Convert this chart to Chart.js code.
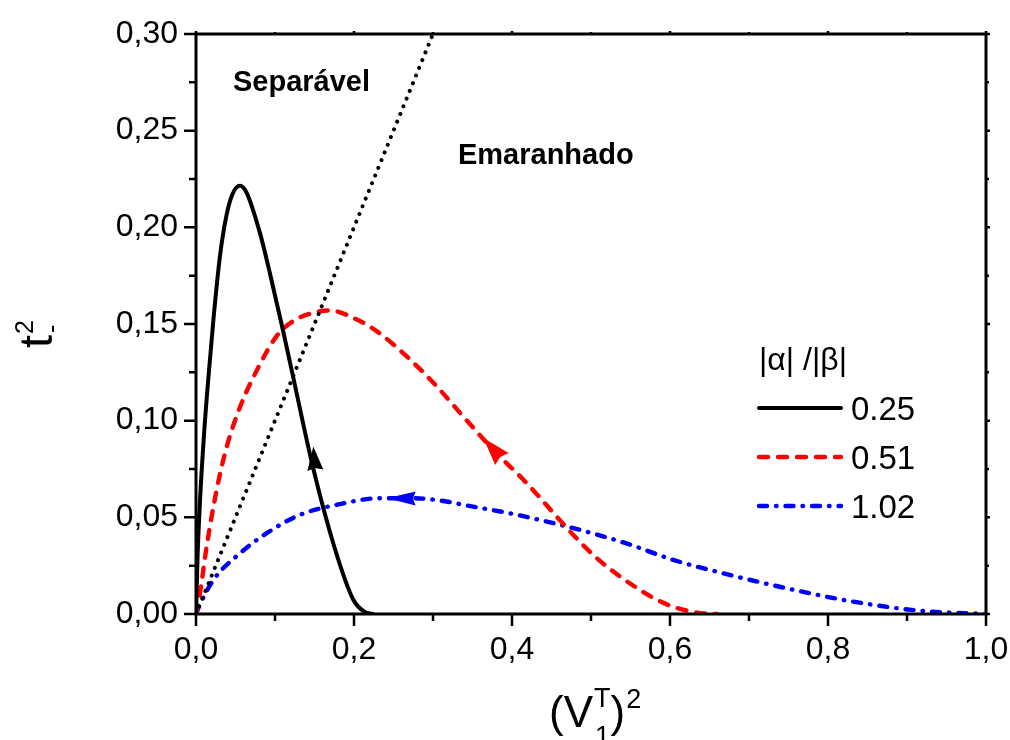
<!DOCTYPE html>
<html><head><meta charset="utf-8">
<script src="https://cdn.jsdelivr.net/npm/chart.js@4.4.1/dist/chart.umd.min.js"></script>
<style>html,body{margin:0;padding:0;background:#fff}canvas{display:block}</style>
</head><body>
<canvas id="c" width="1010" height="740"></canvas>
<script>
// ---- data ----
const xTicks = [0, 0.2, 0.4, 0.6, 0.8, 1.0];
const yTicks = [0, 0.05, 0.10, 0.15, 0.20, 0.25, 0.30];
const xMinor = [0.1, 0.3, 0.5, 0.7, 0.9];
const yMinor = [0.025, 0.075, 0.125, 0.175, 0.225, 0.275];
const legendTitle = '|\u03B1| /|\u03B2|';
const legendLabels = ['0.25', '0.51', '1.02'];

const blackX = [0, 0.002, 0.005, 0.010, 0.015, 0.022, 0.030, 0.038, 0.046, 0.0557, 0.064, 0.081, 0.0937, 0.1105, 0.123, 0.148, 0.176, 0.199, 0.213, 0.224];
const blackY = [0, 0.030, 0.058, 0.092, 0.119, 0.152, 0.184, 0.205, 0.217, 0.2215, 0.218, 0.197, 0.176, 0.146, 0.1225, 0.076, 0.0335, 0.0075, 0.0012, 0];

const redX = [0, 0.004, 0.0135, 0.026, 0.039, 0.0557, 0.0726, 0.102, 0.123, 0.1485, 0.1696, 0.2034, 0.2287, 0.271, 0.3046, 0.338, 0.376, 0.4186, 0.4565, 0.482, 0.507, 0.549, 0.593, 0.634, 0.659];
const redY = [0, 0.008, 0.035, 0.064, 0.0867, 0.107, 0.1225, 0.1437, 0.1515, 0.1558, 0.157, 0.1523, 0.1463, 0.1316, 0.1178, 0.1023, 0.085, 0.0677, 0.0504, 0.039, 0.029, 0.0159, 0.0055, 0.0007, 0];

const blueX = [0, 0.004, 0.022, 0.0557, 0.0895, 0.1316, 0.178, 0.233, 0.275, 0.317, 0.338, 0.4016, 0.4776, 0.545, 0.604, 0.663, 0.7477, 0.832, 0.916, 1.0];
const blueY = [0, 0.004, 0.0176, 0.0314, 0.0418, 0.0513, 0.0565, 0.0599, 0.0599, 0.0582, 0.0565, 0.0517, 0.0444, 0.0365, 0.028, 0.0215, 0.0133, 0.0064, 0.0017, 0];

const boundaryX = [0, 0.30];
const boundaryY = [0, 0.30];

// arrows (tip and tail, in data units)
const arrowTipX  = [0.1485, 0.3637, 0.2414];
const arrowTipY  = [0.0867, 0.0910, 0.0599];
const arrowTailX = [0.1510, 0.3835, 0.2759];
const arrowTailY = [0.0746, 0.0819, 0.0598];
const arrowColors = ['#000000', '#ff0000', '#0000ff'];

const regionLabels = ['Separ\u00E1vel', 'Emaranhado'];
const regionX = [0.0468, 0.3316];
const regionY = [0.2705, 0.2326];

// ---- helpers ----
const FONT = '"Liberation Sans", Arial, sans-serif';
const pts = (xs, ys) => xs.map((x, i) => ({x: x, y: ys[i]}));

const styles = [
  {color: '#000000', dash: [], width: 4},
  {color: '#ff0000', dash: [9, 10], width: 4.4},
  {color: '#0000ff', dash: [8, 9, 0.5, 9], width: 4.4}
];

const deco = {
  id: 'deco',
  afterDatasetsDraw(chart) {
    const ctx = chart.ctx, xs = chart.scales.x, ys = chart.scales.y;
    const ca = chart.chartArea;
    ctx.save();
    ctx.beginPath(); ctx.rect(ca.left, ca.top, ca.right - ca.left, ca.bottom - ca.top); ctx.clip();
    const lens = [24, 28, 29], halfw = [8, 9, 7];
    for (let i = 0; i < arrowTipX.length; i++) {
      const tx = xs.getPixelForValue(arrowTipX[i]), ty = ys.getPixelForValue(arrowTipY[i]);
      const bx = xs.getPixelForValue(arrowTailX[i]), by = ys.getPixelForValue(arrowTailY[i]);
      let ux = tx - bx, uy = ty - by; const d = Math.hypot(ux, uy); ux /= d; uy /= d;
      const L = lens[i], W = halfw[i];
      const cx = tx - ux * L, cy = ty - uy * L;
      const nx = -uy, ny = ux;
      ctx.fillStyle = arrowColors[i];
      ctx.beginPath();
      ctx.moveTo(tx, ty);
      ctx.lineTo(cx + nx * W, cy + ny * W);
      ctx.lineTo(tx - ux * L * 0.9, ty - uy * L * 0.9);
      ctx.lineTo(cx - nx * W, cy - ny * W);
      ctx.closePath(); ctx.fill();
    }
    ctx.restore();
    ctx.save();
    ctx.fillStyle = '#000'; ctx.font = 'bold 29px ' + FONT; ctx.textAlign = 'left'; ctx.textBaseline = 'alphabetic';
    regionLabels.forEach((t, i) => ctx.fillText(t, xs.getPixelForValue(regionX[i]), ys.getPixelForValue(regionY[i])));
    ctx.restore();
  },
  afterDraw(chart) {
    const ctx = chart.ctx, xs = chart.scales.x, ys = chart.scales.y;
    const ca = chart.chartArea;
    ctx.save();
    ctx.strokeStyle = '#000'; ctx.lineWidth = 3; ctx.lineCap = 'butt';
    ctx.strokeRect(ca.left, ca.top, ca.right - ca.left, ca.bottom - ca.top);
    ctx.lineWidth = 2.5;
    ctx.beginPath();
    xTicks.forEach(v => { const p = xs.getPixelForValue(v); ctx.moveTo(p, ca.bottom); ctx.lineTo(p, ca.bottom + 12); ctx.moveTo(p, ca.top); ctx.lineTo(p, ca.top - 3); });
    xMinor.forEach(v => { const p = xs.getPixelForValue(v); ctx.moveTo(p, ca.bottom); ctx.lineTo(p, ca.bottom + 7); ctx.moveTo(p, ca.top); ctx.lineTo(p, ca.top - 2); });
    yTicks.forEach(v => { const p = ys.getPixelForValue(v); ctx.moveTo(ca.left, p); ctx.lineTo(ca.left - 12, p); ctx.moveTo(ca.right, p); ctx.lineTo(ca.right + 4, p); });
    yMinor.forEach(v => { const p = ys.getPixelForValue(v); ctx.moveTo(ca.left, p); ctx.lineTo(ca.left - 7, p); ctx.moveTo(ca.right, p); ctx.lineTo(ca.right + 3, p); });
    ctx.stroke();

    // legend
    ctx.fillStyle = '#000'; ctx.textBaseline = 'alphabetic'; ctx.textAlign = 'left';
    ctx.font = '32px ' + FONT;
    ctx.fillText(legendTitle, 759, 370);
    ctx.font = '33px ' + FONT;
    const ly = [408, 457, 506];
    legendLabels.forEach((t, i) => {
      const s = styles[i];
      ctx.save();
      ctx.strokeStyle = s.color; ctx.lineWidth = s.width; ctx.lineCap = 'round'; ctx.setLineDash(s.dash);
      ctx.beginPath(); ctx.moveTo(759, ly[i]); ctx.lineTo(841, ly[i]); ctx.stroke();
      ctx.restore();
      ctx.fillText(t, 851, ly[i] + 12);
    });

    // x title: (V_1^T)^2
    let x = 549; const base = 727;
    ctx.font = '44px ' + FONT;
    ctx.fillText('(', x, base); x += ctx.measureText('(').width;
    ctx.fillText('V', x, base); x += ctx.measureText('V').width + 1;
    ctx.font = '27px ' + FONT;
    ctx.fillText('T', x, 707);
    ctx.fillText('1', x + 1, 745);
    x += ctx.measureText('T').width;
    ctx.font = '44px ' + FONT;
    ctx.fillText(')', x, base); x += ctx.measureText(')').width + 1;
    ctx.font = '27px ' + FONT;
    ctx.fillText('2', x, 708);

    // y title: t_-^2 (rotated)
    ctx.save();
    ctx.translate(52, 348);
    ctx.rotate(-Math.PI / 2);
    ctx.font = '47px ' + FONT;
    ctx.fillText('t', 0, 0);
    const tw = ctx.measureText('t').width;
    ctx.font = '25px ' + FONT;
    ctx.fillText('2', tw + 1, -19);
    ctx.fillText('-', tw + 2, 8);
    ctx.restore();
    ctx.restore();
  }
};

const datasets = [
  {data: pts(boundaryX, boundaryY), borderColor: '#000', borderWidth: 4, borderDash: [0.01, 8.3], borderCapStyle: 'round', pointRadius: 0, tension: 0, fill: false},
  {data: pts(blackX, blackY), borderColor: styles[0].color, borderWidth: styles[0].width, borderDash: styles[0].dash, borderCapStyle: 'round', borderJoinStyle: 'round', pointRadius: 0, cubicInterpolationMode: 'monotone', fill: false},
  {data: pts(redX, redY), borderColor: styles[1].color, borderWidth: styles[1].width, borderDash: styles[1].dash, borderCapStyle: 'round', pointRadius: 0, cubicInterpolationMode: 'monotone', fill: false},
  {data: pts(blueX, blueY), borderColor: styles[2].color, borderWidth: styles[2].width, borderDash: styles[2].dash, borderCapStyle: 'round', pointRadius: 0, cubicInterpolationMode: 'monotone', fill: false}
];

new Chart(document.getElementById('c'), {
  type: 'line',
  data: {datasets: datasets},
  options: {
    responsive: false, animation: false, devicePixelRatio: 1,
    layout: {padding: {top: 34, right: 24, left: 0, bottom: 0}},
    plugins: {legend: {display: false}, tooltip: {enabled: false}},
    scales: {
      x: {
        type: 'linear', min: 0, max: 1,
        afterFit: s => { s.height = 126; s.paddingLeft = 0; s.paddingRight = 0; },
        afterBuildTicks: s => { s.ticks = xTicks.map(v => ({value: v})); },
        grid: {display: false, drawTicks: false}, border: {display: false},
        ticks: {font: {family: FONT, size: 32}, color: '#000', padding: 17, maxRotation: 0, autoSkip: false,
          callback: v => v.toFixed(1).replace('.', ',')}
      },
      y: {
        type: 'linear', min: 0, max: 0.3,
        afterFit: s => { s.width = 196; s.paddingTop = 0; s.paddingBottom = 0; },
        afterBuildTicks: s => { s.ticks = yTicks.map(v => ({value: v})); },
        grid: {display: false, drawTicks: false}, border: {display: false},
        ticks: {font: {family: FONT, size: 32}, color: '#000', padding: 18, autoSkip: false,
          callback: v => v.toFixed(2).replace('.', ',')}
      }
    }
  },
  plugins: [deco]
});
</script>
</body></html>
